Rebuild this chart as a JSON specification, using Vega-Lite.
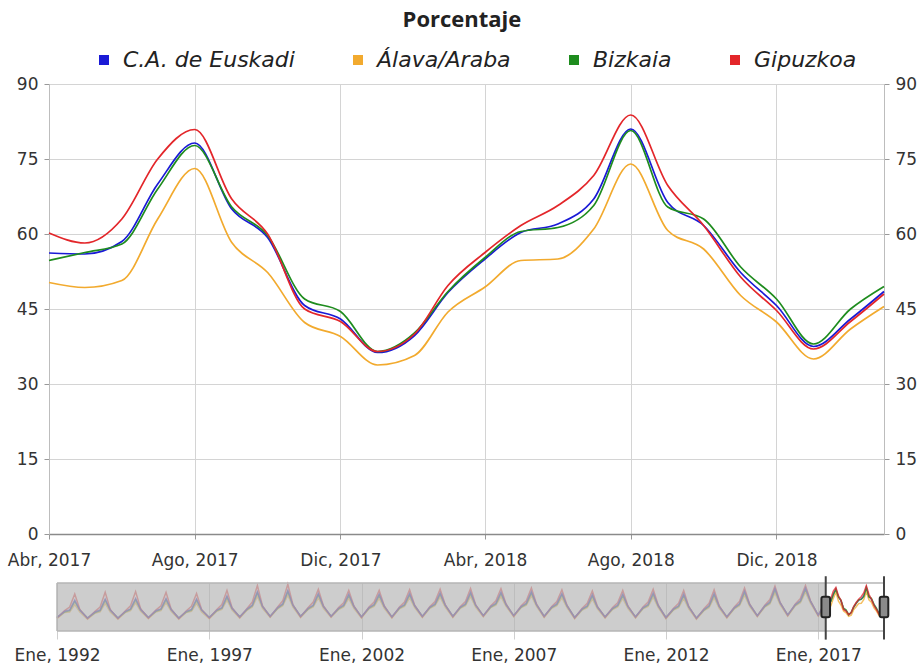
{
  "$schema": "https://vega.github.io/schema/vega-lite/v6.json",
  "background": "white",
  "padding": {"left": 7, "top": 9, "right": 5, "bottom": 3},
  "title": {"text": "Porcentaje", "font": "Open Sans", "fontSize": 22, "fontWeight": "bold", "color": "#222", "anchor": "middle", "offset": 17},
  "datasets": {
    "main": [
      {"d":"2017-04-01","s":"C.A. de Euskadi","v":56.2},{"d":"2017-04-01","s":"Álava/Araba","v":50.3},{"d":"2017-04-01","s":"Bizkaia","v":54.7},{"d":"2017-04-01","s":"Gipuzkoa","v":60.2},
      {"d":"2017-05-01","s":"C.A. de Euskadi","v":56.0},{"d":"2017-05-01","s":"Álava/Araba","v":49.3},{"d":"2017-05-01","s":"Bizkaia","v":56.3},{"d":"2017-05-01","s":"Gipuzkoa","v":58.2},
      {"d":"2017-06-01","s":"C.A. de Euskadi","v":58.5},{"d":"2017-06-01","s":"Álava/Araba","v":50.7},{"d":"2017-06-01","s":"Bizkaia","v":58.0},{"d":"2017-06-01","s":"Gipuzkoa","v":63.0},
      {"d":"2017-07-01","s":"C.A. de Euskadi","v":70.0},{"d":"2017-07-01","s":"Álava/Araba","v":63.0},{"d":"2017-07-01","s":"Bizkaia","v":69.0},{"d":"2017-07-01","s":"Gipuzkoa","v":75.0},
      {"d":"2017-08-01","s":"C.A. de Euskadi","v":78.2},{"d":"2017-08-01","s":"Álava/Araba","v":73.1},{"d":"2017-08-01","s":"Bizkaia","v":77.7},{"d":"2017-08-01","s":"Gipuzkoa","v":80.9},
      {"d":"2017-09-01","s":"C.A. de Euskadi","v":65.0},{"d":"2017-09-01","s":"Álava/Araba","v":58.3},{"d":"2017-09-01","s":"Bizkaia","v":65.4},{"d":"2017-09-01","s":"Gipuzkoa","v":67.0},
      {"d":"2017-10-01","s":"C.A. de Euskadi","v":59.3},{"d":"2017-10-01","s":"Álava/Araba","v":52.3},{"d":"2017-10-01","s":"Bizkaia","v":59.7},{"d":"2017-10-01","s":"Gipuzkoa","v":60.0},
      {"d":"2017-11-01","s":"C.A. de Euskadi","v":45.7},{"d":"2017-11-01","s":"Álava/Araba","v":42.3},{"d":"2017-11-01","s":"Bizkaia","v":47.0},{"d":"2017-11-01","s":"Gipuzkoa","v":45.0},
      {"d":"2017-12-01","s":"C.A. de Euskadi","v":43.0},{"d":"2017-12-01","s":"Álava/Araba","v":39.5},{"d":"2017-12-01","s":"Bizkaia","v":44.5},{"d":"2017-12-01","s":"Gipuzkoa","v":42.5},
      {"d":"2018-01-01","s":"C.A. de Euskadi","v":36.3},{"d":"2018-01-01","s":"Álava/Araba","v":33.8},{"d":"2018-01-01","s":"Bizkaia","v":36.5},{"d":"2018-01-01","s":"Gipuzkoa","v":36.5},
      {"d":"2018-02-01","s":"C.A. de Euskadi","v":39.7},{"d":"2018-02-01","s":"Álava/Araba","v":35.7},{"d":"2018-02-01","s":"Bizkaia","v":40.2},{"d":"2018-02-01","s":"Gipuzkoa","v":40.0},
      {"d":"2018-03-01","s":"C.A. de Euskadi","v":48.3},{"d":"2018-03-01","s":"Álava/Araba","v":44.4},{"d":"2018-03-01","s":"Bizkaia","v":48.5},{"d":"2018-03-01","s":"Gipuzkoa","v":49.7},
      {"d":"2018-04-01","s":"C.A. de Euskadi","v":55.0},{"d":"2018-04-01","s":"Álava/Araba","v":49.4},{"d":"2018-04-01","s":"Bizkaia","v":55.3},{"d":"2018-04-01","s":"Gipuzkoa","v":56.3},
      {"d":"2018-05-01","s":"C.A. de Euskadi","v":60.3},{"d":"2018-05-01","s":"Álava/Araba","v":54.7},{"d":"2018-05-01","s":"Bizkaia","v":60.5},{"d":"2018-05-01","s":"Gipuzkoa","v":61.7},
      {"d":"2018-06-01","s":"C.A. de Euskadi","v":62.0},{"d":"2018-06-01","s":"Álava/Araba","v":55.0},{"d":"2018-06-01","s":"Bizkaia","v":61.3},{"d":"2018-06-01","s":"Gipuzkoa","v":65.7},
      {"d":"2018-07-01","s":"C.A. de Euskadi","v":67.0},{"d":"2018-07-01","s":"Álava/Araba","v":61.0},{"d":"2018-07-01","s":"Bizkaia","v":65.7},{"d":"2018-07-01","s":"Gipuzkoa","v":71.7},
      {"d":"2018-08-01","s":"C.A. de Euskadi","v":81.0},{"d":"2018-08-01","s":"Álava/Araba","v":74.0},{"d":"2018-08-01","s":"Bizkaia","v":80.7},{"d":"2018-08-01","s":"Gipuzkoa","v":83.8},
      {"d":"2018-09-01","s":"C.A. de Euskadi","v":66.3},{"d":"2018-09-01","s":"Álava/Araba","v":60.7},{"d":"2018-09-01","s":"Bizkaia","v":65.4},{"d":"2018-09-01","s":"Gipuzkoa","v":69.7},
      {"d":"2018-10-01","s":"C.A. de Euskadi","v":61.7},{"d":"2018-10-01","s":"Álava/Araba","v":57.0},{"d":"2018-10-01","s":"Bizkaia","v":63.0},{"d":"2018-10-01","s":"Gipuzkoa","v":61.7},
      {"d":"2018-11-01","s":"C.A. de Euskadi","v":52.3},{"d":"2018-11-01","s":"Álava/Araba","v":47.7},{"d":"2018-11-01","s":"Bizkaia","v":53.4},{"d":"2018-11-01","s":"Gipuzkoa","v":51.4},
      {"d":"2018-12-01","s":"C.A. de Euskadi","v":45.7},{"d":"2018-12-01","s":"Álava/Araba","v":42.4},{"d":"2018-12-01","s":"Bizkaia","v":47.0},{"d":"2018-12-01","s":"Gipuzkoa","v":44.7},
      {"d":"2019-01-01","s":"C.A. de Euskadi","v":37.5},{"d":"2019-01-01","s":"Álava/Araba","v":35.0},{"d":"2019-01-01","s":"Bizkaia","v":38.0},{"d":"2019-01-01","s":"Gipuzkoa","v":37.0},
      {"d":"2019-02-01","s":"C.A. de Euskadi","v":43.0},{"d":"2019-02-01","s":"Álava/Araba","v":41.0},{"d":"2019-02-01","s":"Bizkaia","v":45.0},{"d":"2019-02-01","s":"Gipuzkoa","v":42.5},
      {"d":"2019-03-01","s":"C.A. de Euskadi","v":48.5},{"d":"2019-03-01","s":"Álava/Araba","v":45.5},{"d":"2019-03-01","s":"Bizkaia","v":49.5},{"d":"2019-03-01","s":"Gipuzkoa","v":48.0}
    ],
    "nav": [
      {"d":"1992-01-01","e":32,"a":30,"b":32,"g":31},{"d":"1992-04-01","e":42,"a":40,"b":41,"g":43},{"d":"1992-06-01","e":44,"a":41,"b":43,"g":49},{"d":"1992-08-01","e":60,"a":53,"b":58,"g":70},{"d":"1992-10-01","e":44,"a":41,"b":44,"g":45},
      {"d":"1993-01-01","e":31,"a":29,"b":31,"g":30},{"d":"1993-04-01","e":41,"a":39,"b":40,"g":42},{"d":"1993-06-01","e":44,"a":41,"b":43,"g":49},{"d":"1993-08-01","e":62,"a":55,"b":60,"g":73},{"d":"1993-10-01","e":44,"a":41,"b":44,"g":45},
      {"d":"1994-01-01","e":31,"a":29,"b":31,"g":30},{"d":"1994-04-01","e":42,"a":40,"b":41,"g":43},{"d":"1994-06-01","e":46,"a":43,"b":45,"g":51},{"d":"1994-08-01","e":63,"a":56,"b":61,"g":74},{"d":"1994-10-01","e":45,"a":42,"b":45,"g":46},
      {"d":"1995-01-01","e":32,"a":30,"b":32,"g":31},{"d":"1995-04-01","e":43,"a":41,"b":42,"g":44},{"d":"1995-06-01","e":46,"a":43,"b":45,"g":51},{"d":"1995-08-01","e":63,"a":56,"b":61,"g":73},{"d":"1995-10-01","e":45,"a":42,"b":45,"g":46},
      {"d":"1996-01-01","e":31,"a":29,"b":31,"g":30},{"d":"1996-04-01","e":42,"a":40,"b":41,"g":43},{"d":"1996-06-01","e":45,"a":42,"b":44,"g":50},{"d":"1996-08-01","e":62,"a":55,"b":60,"g":71},{"d":"1996-10-01","e":44,"a":41,"b":44,"g":45},
      {"d":"1997-01-01","e":32,"a":30,"b":32,"g":31},{"d":"1997-04-01","e":44,"a":42,"b":43,"g":45},{"d":"1997-06-01","e":48,"a":45,"b":47,"g":53},{"d":"1997-08-01","e":67,"a":60,"b":65,"g":76},{"d":"1997-10-01","e":47,"a":44,"b":47,"g":48},
      {"d":"1998-01-01","e":33,"a":31,"b":33,"g":32},{"d":"1998-04-01","e":46,"a":44,"b":45,"g":47},{"d":"1998-06-01","e":52,"a":49,"b":51,"g":57},{"d":"1998-08-01","e":74,"a":66,"b":72,"g":84},{"d":"1998-10-01","e":50,"a":47,"b":50,"g":51},
      {"d":"1999-01-01","e":34,"a":32,"b":34,"g":33},{"d":"1999-04-01","e":48,"a":46,"b":47,"g":49},{"d":"1999-06-01","e":54,"a":51,"b":53,"g":59},{"d":"1999-08-01","e":76,"a":68,"b":74,"g":86},{"d":"1999-10-01","e":52,"a":49,"b":52,"g":53},
      {"d":"2000-01-01","e":34,"a":32,"b":34,"g":33},{"d":"2000-04-01","e":47,"a":45,"b":46,"g":48},{"d":"2000-06-01","e":52,"a":49,"b":51,"g":57},{"d":"2000-08-01","e":71,"a":64,"b":69,"g":78},{"d":"2000-10-01","e":50,"a":47,"b":50,"g":51},
      {"d":"2001-01-01","e":34,"a":32,"b":34,"g":33},{"d":"2001-04-01","e":47,"a":45,"b":46,"g":48},{"d":"2001-06-01","e":52,"a":49,"b":51,"g":56},{"d":"2001-08-01","e":70,"a":63,"b":68,"g":76},{"d":"2001-10-01","e":50,"a":47,"b":50,"g":51},
      {"d":"2002-01-01","e":33,"a":31,"b":33,"g":32},{"d":"2002-04-01","e":48,"a":46,"b":47,"g":49},{"d":"2002-06-01","e":53,"a":50,"b":52,"g":57},{"d":"2002-08-01","e":70,"a":63,"b":68,"g":76},{"d":"2002-10-01","e":50,"a":47,"b":50,"g":51},
      {"d":"2003-01-01","e":33,"a":31,"b":33,"g":32},{"d":"2003-04-01","e":48,"a":46,"b":47,"g":49},{"d":"2003-06-01","e":53,"a":50,"b":52,"g":57},{"d":"2003-08-01","e":71,"a":64,"b":69,"g":77},{"d":"2003-10-01","e":51,"a":48,"b":51,"g":52},
      {"d":"2004-01-01","e":34,"a":32,"b":34,"g":33},{"d":"2004-04-01","e":49,"a":47,"b":48,"g":50},{"d":"2004-06-01","e":54,"a":51,"b":53,"g":58},{"d":"2004-08-01","e":72,"a":65,"b":70,"g":78},{"d":"2004-10-01","e":52,"a":49,"b":52,"g":53},
      {"d":"2005-01-01","e":34,"a":32,"b":34,"g":33},{"d":"2005-04-01","e":49,"a":47,"b":48,"g":50},{"d":"2005-06-01","e":54,"a":51,"b":53,"g":58},{"d":"2005-08-01","e":73,"a":66,"b":71,"g":79},{"d":"2005-10-01","e":52,"a":49,"b":52,"g":53},
      {"d":"2006-01-01","e":35,"a":33,"b":35,"g":34},{"d":"2006-04-01","e":50,"a":48,"b":49,"g":51},{"d":"2006-06-01","e":55,"a":52,"b":54,"g":59},{"d":"2006-08-01","e":73,"a":66,"b":71,"g":79},{"d":"2006-10-01","e":53,"a":50,"b":53,"g":54},
      {"d":"2007-01-01","e":35,"a":33,"b":35,"g":34},{"d":"2007-04-01","e":50,"a":48,"b":49,"g":51},{"d":"2007-06-01","e":55,"a":52,"b":54,"g":59},{"d":"2007-08-01","e":74,"a":67,"b":72,"g":80},{"d":"2007-10-01","e":53,"a":50,"b":53,"g":54},
      {"d":"2008-01-01","e":34,"a":32,"b":34,"g":33},{"d":"2008-04-01","e":49,"a":47,"b":48,"g":50},{"d":"2008-06-01","e":54,"a":51,"b":53,"g":58},{"d":"2008-08-01","e":71,"a":64,"b":69,"g":77},{"d":"2008-10-01","e":51,"a":48,"b":51,"g":52},
      {"d":"2009-01-01","e":32,"a":30,"b":32,"g":31},{"d":"2009-04-01","e":46,"a":44,"b":45,"g":47},{"d":"2009-06-01","e":51,"a":48,"b":50,"g":55},{"d":"2009-08-01","e":69,"a":62,"b":67,"g":75},{"d":"2009-10-01","e":49,"a":46,"b":49,"g":50},
      {"d":"2010-01-01","e":33,"a":31,"b":33,"g":32},{"d":"2010-04-01","e":47,"a":45,"b":46,"g":48},{"d":"2010-06-01","e":52,"a":49,"b":51,"g":56},{"d":"2010-08-01","e":70,"a":63,"b":68,"g":76},{"d":"2010-10-01","e":50,"a":47,"b":50,"g":51},
      {"d":"2011-01-01","e":33,"a":31,"b":33,"g":32},{"d":"2011-04-01","e":48,"a":46,"b":47,"g":49},{"d":"2011-06-01","e":53,"a":50,"b":52,"g":57},{"d":"2011-08-01","e":72,"a":65,"b":70,"g":78},{"d":"2011-10-01","e":51,"a":48,"b":51,"g":52},
      {"d":"2012-01-01","e":32,"a":30,"b":32,"g":31},{"d":"2012-04-01","e":46,"a":44,"b":45,"g":47},{"d":"2012-06-01","e":51,"a":48,"b":50,"g":55},{"d":"2012-08-01","e":70,"a":63,"b":68,"g":76},{"d":"2012-10-01","e":49,"a":46,"b":49,"g":50},
      {"d":"2013-01-01","e":31,"a":29,"b":31,"g":30},{"d":"2013-04-01","e":45,"a":43,"b":44,"g":46},{"d":"2013-06-01","e":51,"a":48,"b":50,"g":55},{"d":"2013-08-01","e":71,"a":64,"b":69,"g":77},{"d":"2013-10-01","e":50,"a":47,"b":50,"g":51},
      {"d":"2014-01-01","e":33,"a":31,"b":33,"g":32},{"d":"2014-04-01","e":48,"a":46,"b":47,"g":49},{"d":"2014-06-01","e":54,"a":51,"b":53,"g":58},{"d":"2014-08-01","e":75,"a":68,"b":73,"g":80},{"d":"2014-10-01","e":53,"a":50,"b":53,"g":54},
      {"d":"2015-01-01","e":35,"a":33,"b":35,"g":34},{"d":"2015-04-01","e":51,"a":49,"b":50,"g":52},{"d":"2015-06-01","e":57,"a":54,"b":56,"g":61},{"d":"2015-08-01","e":79,"a":72,"b":77,"g":83},{"d":"2015-10-01","e":56,"a":53,"b":56,"g":57},
      {"d":"2016-01-01","e":36,"a":34,"b":36,"g":35},{"d":"2016-04-01","e":53,"a":51,"b":52,"g":54},{"d":"2016-06-01","e":59,"a":56,"b":58,"g":63},{"d":"2016-08-01","e":80,"a":73,"b":78,"g":84},{"d":"2016-10-01","e":58,"a":55,"b":58,"g":59},
      {"d":"2017-01-01","e":36,"a":34,"b":36,"g":35},{"d":"2017-04-01","e":56.2,"a":50.3,"b":54.7,"g":60.2}
    ],
    "sel": [{"t":"2017-04-01"},{"t":"2019-03-01"}]
  },
  "vconcat": [
    {
      "width": 835,
      "height": 450,
      "data": {"name": "main"},
      "layer": [
        {
          "mark": {"type": "line", "interpolate": "monotone", "strokeWidth": 1.7},
          "encoding": {
            "x": {
              "field": "d", "type": "temporal",
              "scale": {"type": "utc", "domain": [{"year": 2017, "month": 4, "date": 1, "utc": true}, {"year": 2019, "month": 3, "date": 1, "utc": true}]},
              "axis": {
                "title": null,
                "values": [
                  {"year": 2017, "month": 4, "date": 1, "utc": true},
                  {"year": 2017, "month": 8, "date": 1, "utc": true},
                  {"year": 2017, "month": 12, "date": 1, "utc": true},
                  {"year": 2018, "month": 4, "date": 1, "utc": true},
                  {"year": 2018, "month": 8, "date": 1, "utc": true},
                  {"year": 2018, "month": 12, "date": 1, "utc": true}
                ],
                "labelExpr": "['Ene','Feb','Mar','Abr','May','Jun','Jul','Ago','Sep','Oct','Nov','Dic'][utcmonth(datum.value)] + ', ' + utcyear(datum.value)",
                "labelFlush": false,
                "labelFontSize": 17,
                "labelPadding": 13,
                "tickSize": 5,
                "tickColor": "#999",
                "domainColor": "#8a8a8a",
                "domainWidth": 1.5,
                "grid": true,
                "gridColor": "#d4d4d4"
              }
            },
            "y": {
              "field": "v", "type": "quantitative",
              "scale": {"domain": [0, 90], "nice": false},
              "axis": {
                "title": null, "orient": "left",
                "values": [0, 15, 30, 45, 60, 75, 90],
                "labelFontSize": 17, "labelPadding": 6, "tickSize": 5, "tickColor": "#999",
                "domainColor": "#bdbdbd", "grid": true, "gridColor": "#d4d4d4"
              }
            },
            "color": {
              "field": "s", "type": "nominal",
              "scale": {"domain": ["C.A. de Euskadi", "Álava/Araba", "Bizkaia", "Gipuzkoa"], "range": ["#1a1ad6", "#f2aa2e", "#1e8c1e", "#e3262a"]},
              "legend": {
                "title": null, "orient": "none", "direction": "horizontal",
                "legendX": 44, "legendY": -35, "padding": 0,
                "symbolType": "square", "symbolSize": 100, "symbolStrokeWidth": 0,
                "labelFont": "DejaVu Sans", "labelFontSize": 22, "labelFontStyle": "italic", "labelColor": "#222",
                "labelLimit": 400, "labelOffset": 8, "columnPadding": 52,
                "encode": {"symbols": {"update": {"fill": {"signal": "['#1a1ad6','#f2aa2e','#1e8c1e','#e3262a'][indexof(['C.A. de Euskadi','Álava/Araba','Bizkaia','Gipuzkoa'], datum.value)]"}, "opacity": {"value": 1}}}}
              }
            }
          }
        },
        {
          "mark": {"type": "rule", "opacity": 0},
          "encoding": {
            "y": {
              "datum": 0, "type": "quantitative",
              "scale": {"domain": [0, 90], "nice": false},
              "axis": {
                "title": null, "orient": "right", "grid": false,
                "values": [0, 15, 30, 45, 60, 75, 90],
                "labelFontSize": 17, "labelPadding": 6, "tickSize": 5, "tickColor": "#999",
                "domainColor": "#bdbdbd"
              }
            }
          }
        }
      ],
      "resolve": {"scale": {"y": "independent"}}
    },
    {
      "width": 835,
      "height": 48,
      "layer": [
        {
          "data": {"name": "nav"},
          "transform": [{"fold": ["a", "b", "g", "e"], "as": ["s", "v"]}],
          "mark": {"type": "line", "strokeWidth": 1.5, "opacity": 0.75},
          "encoding": {
            "x": {
              "field": "d", "type": "temporal",
              "scale": {"type": "utc", "domain": [{"year": 1991, "month": 9, "date": 27, "utc": true}, {"year": 2019, "month": 3, "date": 1, "utc": true}]},
              "axis": {
                "title": null,
                "values": [
                  {"year": 1992, "month": 1, "date": 1, "utc": true},
                  {"year": 1997, "month": 1, "date": 1, "utc": true},
                  {"year": 2002, "month": 1, "date": 1, "utc": true},
                  {"year": 2007, "month": 1, "date": 1, "utc": true},
                  {"year": 2012, "month": 1, "date": 1, "utc": true},
                  {"year": 2017, "month": 1, "date": 1, "utc": true}
                ],
                "labelExpr": "['Ene','Feb','Mar','Abr','May','Jun','Jul','Ago','Sep','Oct','Nov','Dic'][utcmonth(datum.value)] + ', ' + utcyear(datum.value)",
                "labelFlush": false, "labelFontSize": 17, "labelPadding": 8,
                "tickSize": 8, "tickColor": "#cfcfcf", "domain": false,
                "grid": true, "gridColor": "#c8c8c8"
              }
            },
            "y": {"field": "v", "type": "quantitative", "scale": {"domain": [10, 88], "zero": false, "nice": false}, "axis": null},
            "color": {
              "field": "s", "type": "nominal",
              "scale": {
                "domain": ["e", "a", "b", "g", "C.A. de Euskadi", "Álava/Araba", "Bizkaia", "Gipuzkoa"],
                "range": ["#3a2ac0", "#f2aa2e", "#1e8c1e", "#e3262a", "#3a2ac0", "#f2aa2e", "#1e8c1e", "#e3262a"]
              },
              "legend": null
            }
          }
        },
        {
          "data": {"name": "main"},
          "mark": {"type": "line", "strokeWidth": 1.5, "opacity": 0.75},
          "encoding": {
            "x": {"field": "d", "type": "temporal"},
            "y": {"field": "v", "type": "quantitative"},
            "color": {"field": "s", "type": "nominal", "legend": null}
          }
        },
        {
          "data": {"name": "sel"},
          "mark": {"type": "rect", "fill": "#b8b8b8", "opacity": 0.45},
          "encoding": {
            "x": {"datum": {"year": 1992, "month": 1, "date": 1, "utc": true}, "type": "temporal"},
            "x2": {"datum": {"year": 2017, "month": 4, "date": 1, "utc": true}},
            "y": {"datum": 88, "type": "quantitative"},
            "y2": {"datum": 10}
          }
        },
        {
          "data": {"name": "sel"},
          "mark": {"type": "rect", "fill": null, "stroke": "#b5b5b5", "strokeWidth": 1},
          "encoding": {
            "x": {"datum": {"year": 1992, "month": 1, "date": 1, "utc": true}, "type": "temporal"},
            "x2": {"datum": {"year": 2019, "month": 3, "date": 1, "utc": true}},
            "y": {"datum": 88, "type": "quantitative"},
            "y2": {"datum": 10}
          }
        },
        {
          "data": {"name": "sel"},
          "mark": {"type": "rule", "color": "#444", "strokeWidth": 2},
          "encoding": {
            "x": {"field": "t", "type": "temporal"},
            "y": {"datum": 99, "type": "quantitative"},
            "y2": {"datum": -4}
          }
        },
        {
          "data": {"name": "sel"},
          "mark": {
            "type": "point", "filled": true, "fill": "#8a8a8a", "stroke": "#222", "strokeWidth": 2, "opacity": 1, "size": 420,
            "shape": "M-0.22,-1 L0.22,-1 Q0.42,-1 0.42,-0.8 L0.42,0.8 Q0.42,1 0.22,1 L-0.22,1 Q-0.42,1 -0.42,0.8 L-0.42,-0.8 Q-0.42,-1 -0.22,-1 Z"
          },
          "encoding": {
            "x": {"field": "t", "type": "temporal"},
            "y": {"datum": 49, "type": "quantitative"}
          }
        }
      ]
    }
  ],
  "spacing": 49,
  "bounds": "flush",
  "resolve": {"scale": {"color": "independent", "x": "independent", "y": "independent"}, "legend": {"color": "independent"}},
  "config": {
    "view": {"stroke": null},
    "axis": {"labelFont": "DejaVu Sans", "labelColor": "#333"}
  }
}
